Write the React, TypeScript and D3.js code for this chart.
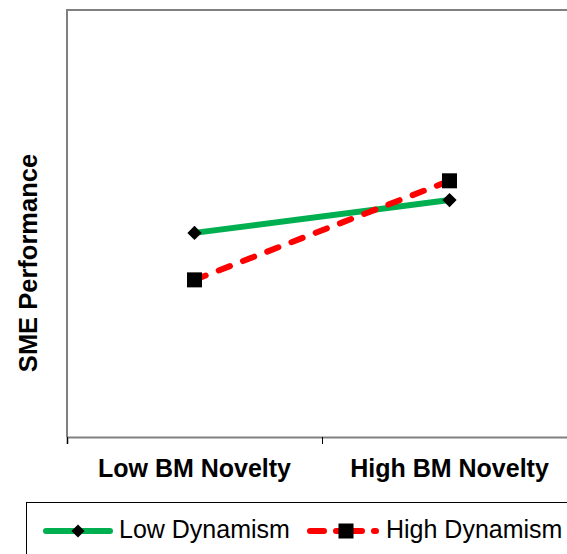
import React, { useEffect, useRef } from "react";
import * as d3 from "d3";

// chart data
const categories = ["Low BM Novelty", "High BM Novelty"];
const lowDynamism = [4.78, 5.55];
const highDynamism = [3.68, 6.0];
const seriesNames = ["Low Dynamism", "High Dynamism"];

const App: React.FC = () => {
  const ref = useRef<SVGSVGElement | null>(null);

  useEffect(() => {
    const svg = d3.select(ref.current);
    svg.selectAll("*").remove();

    const font = "'Liberation Sans', Arial, sans-serif";
    const left = 67,
      right = 577,
      top = 10,
      bottom = 437;

    const x = d3.scaleBand().domain(categories).range([left, right]).padding(0);
    const y = d3.scaleLinear().domain([0, 10]).range([bottom, top]);
    const cx = (c: string) => (x(c) ?? 0) + x.bandwidth() / 2;

    // plot frame (left + top)
    svg
      .append("path")
      .attr("d", `M${left},${bottom} V${top} H${right + 2}`)
      .attr("fill", "none")
      .attr("stroke", "#808080")
      .attr("stroke-width", 2);

    // bottom axis
    const ax = svg
      .append("g")
      .attr("transform", `translate(0,${bottom})`)
      .call(
        d3
          .axisBottom(d3.scaleLinear().domain([0, 2]).range([left, right]))
          .tickValues([0, 1, 2])
          .tickSize(7)
          .tickFormat(() => "")
      );
    ax.select(".domain").attr("stroke", "#808080").attr("stroke-width", 2);
    ax.selectAll(".tick line").attr("stroke", "#000").attr("stroke-width", 1);

    // category labels
    svg
      .append("g")
      .selectAll("text")
      .data(categories)
      .enter()
      .append("text")
      .attr("x", (d) => cx(d))
      .attr("y", 477)
      .attr("text-anchor", "middle")
      .attr("font-family", font)
      .attr("font-weight", "bold")
      .attr("font-size", 25)
      .text((d) => d);

    // y label
    svg
      .append("text")
      .attr("transform", "translate(37,263) rotate(-90)")
      .attr("text-anchor", "middle")
      .attr("font-family", font)
      .attr("font-weight", "bold")
      .attr("font-size", 25.5)
      .text("SME Performance");

    const line = d3
      .line<number>()
      .x((_, i) => cx(categories[i]))
      .y((d) => y(d));

    // low dynamism
    svg
      .append("path")
      .datum(lowDynamism)
      .attr("d", line)
      .attr("fill", "none")
      .attr("stroke", "#00B050")
      .attr("stroke-width", 6);

    // high dynamism
    svg
      .append("path")
      .datum(highDynamism)
      .attr("d", line)
      .attr("fill", "none")
      .attr("stroke", "#FF0000")
      .attr("stroke-width", 6)
      .attr("stroke-linecap", "round")
      .attr("stroke-dasharray", "12,14");

    const diamond = d3.symbol().type(d3.symbolDiamond2).size(130);

    svg
      .append("g")
      .selectAll("path")
      .data(lowDynamism)
      .enter()
      .append("path")
      .attr("d", diamond)
      .attr("transform", (d, i) => `translate(${cx(categories[i])},${y(d)})`)
      .attr("fill", "#000");

    svg
      .append("g")
      .selectAll("rect")
      .data(highDynamism)
      .enter()
      .append("rect")
      .attr("x", (_, i) => cx(categories[i]) - 7.5)
      .attr("y", (d) => y(d) - 7.5)
      .attr("width", 15)
      .attr("height", 15)
      .attr("fill", "#000");

    // legend
    const lg = svg.append("g");
    lg.append("rect")
      .attr("x", 26.5)
      .attr("y", 502.5)
      .attr("width", 600)
      .attr("height", 80)
      .attr("fill", "#fff")
      .attr("stroke", "#000")
      .attr("stroke-width", 1);

    lg.append("line")
      .attr("x1", 46)
      .attr("x2", 110)
      .attr("y1", 531)
      .attr("y2", 531)
      .attr("stroke", "#00B050")
      .attr("stroke-width", 6)
      .attr("stroke-linecap", "round");
    lg.append("path")
      .attr("d", d3.symbol().type(d3.symbolDiamond2).size(110))
      .attr("transform", "translate(78,531)")
      .attr("fill", "#000");

    lg.append("line")
      .attr("x1", 310)
      .attr("x2", 376)
      .attr("y1", 531)
      .attr("y2", 531)
      .attr("stroke", "#FF0000")
      .attr("stroke-width", 6)
      .attr("stroke-linecap", "round")
      .attr("stroke-dasharray", "14,12,26,12");
    lg.append("rect")
      .attr("x", 338.5)
      .attr("y", 523.5)
      .attr("width", 15)
      .attr("height", 15)
      .attr("fill", "#000");

    lg.selectAll("text.lbl")
      .data(seriesNames)
      .enter()
      .append("text")
      .attr("x", (_, i) => (i === 0 ? 119 : 386))
      .attr("y", 538)
      .attr("font-family", font)
      .attr("font-size", 25)
      .text((d) => d);
  }, []);

  return <svg ref={ref} width={567} height={554} style={{ position: "absolute", left: 0, top: 0 }}></svg>;
};

export default App;
